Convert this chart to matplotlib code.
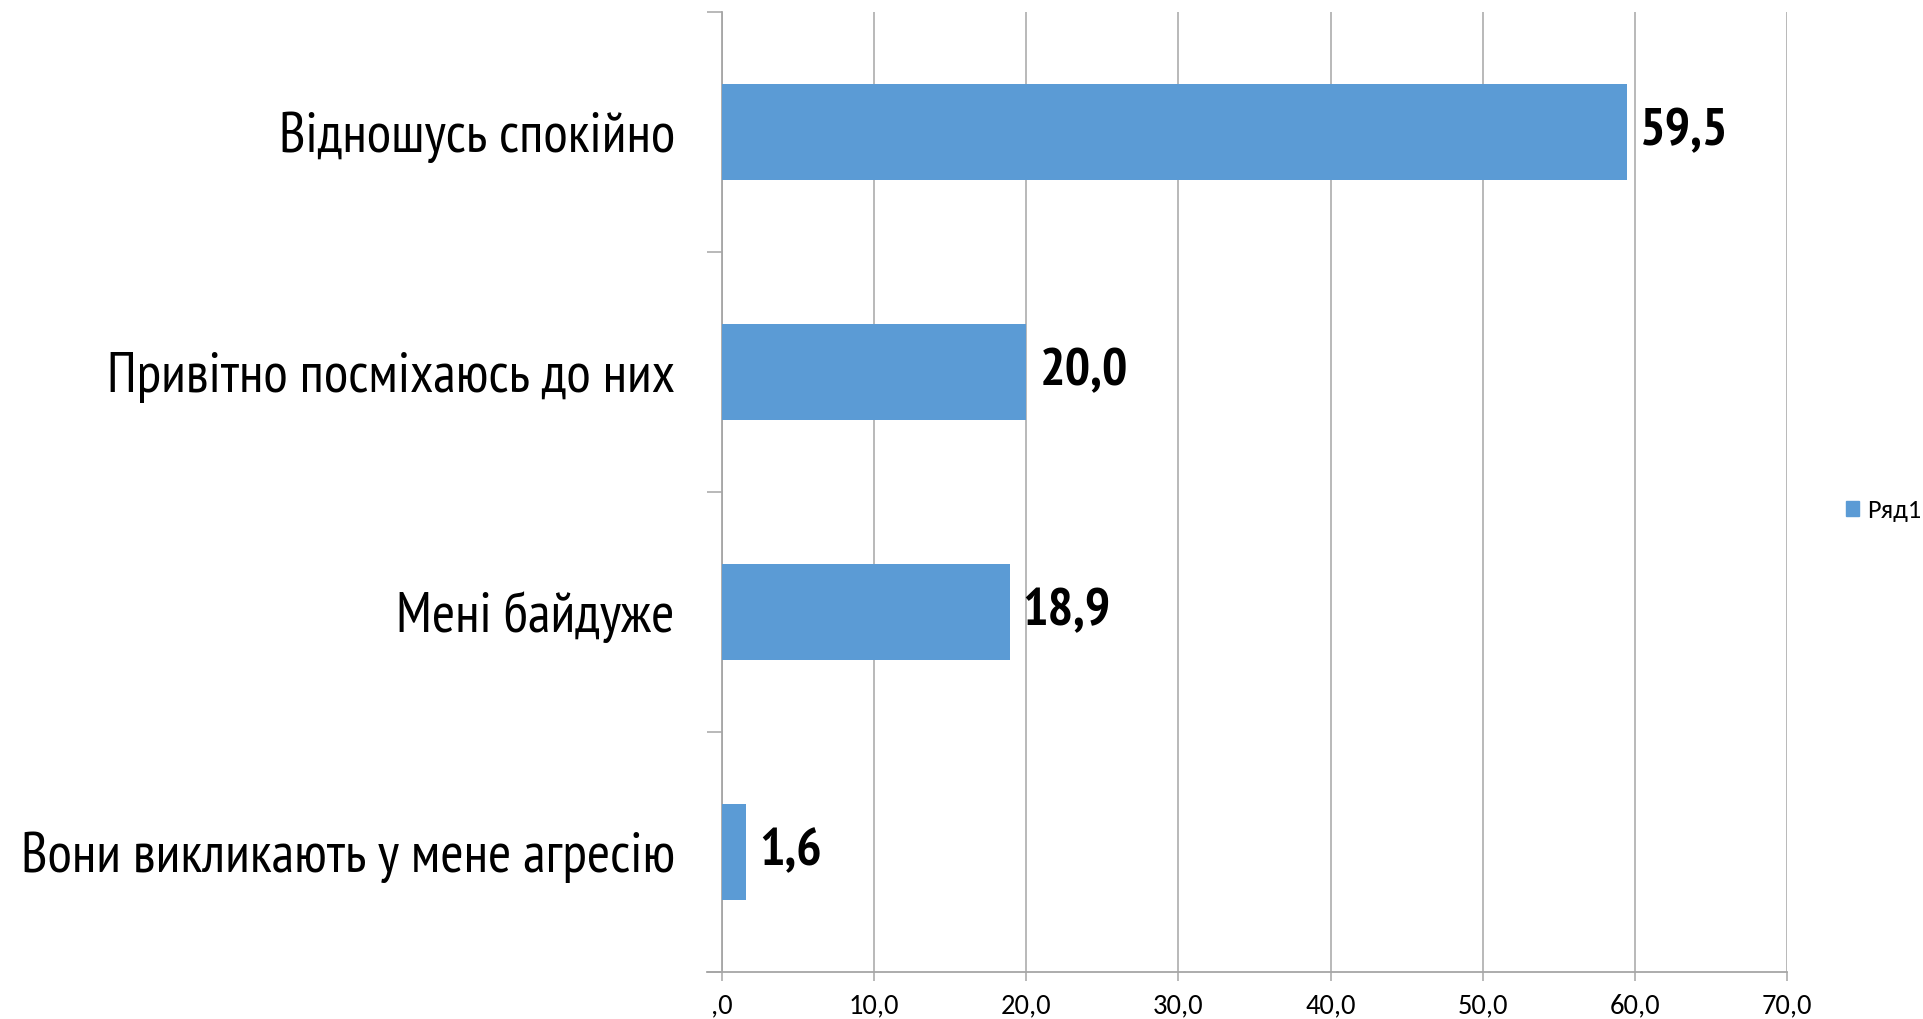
import matplotlib
matplotlib.use("Agg")
import matplotlib.pyplot as plt
from matplotlib.patches import Patch

categories = ["Відношусь спокійно", "Привітно посміхаюсь до них",
              "Мені байдуже", "Вони викликають у мене агресію"]
values = [59.5, 20.0, 18.9, 1.6]
value_labels = ["59,5", "20,0", "18,9", "1,6"]
xticks = [0, 10, 20, 30, 40, 50, 60, 70]
xtick_labels = [",0", "10,0", "20,0", "30,0", "40,0", "50,0", "60,0", "70,0"]
series_name = "Ряд1"

BAR = "#5B9BD5"
GRID = "#A6A6A6"
narrow = ["PT Sans Narrow", "Roboto Condensed", "DejaVu Sans"]
calibri = ["Carlito", "Open Sans", "DejaVu Sans"]

fig = plt.figure(figsize=(19.24, 10.19), dpi=100)
ax = fig.add_axes([0.3753, 0.0461, 0.5535, 0.9421])

pos = [i + 0.5 for i in range(len(categories))]
ax.barh(pos, values, height=0.4, color=BAR, zorder=3)
ax.set_ylim(len(categories), 0)
ax.set_xlim(0, 70)

# grid + spines
ax.set_xticks(xticks)
ax.set_xticklabels(xtick_labels, family=calibri, fontsize=20.5)
ax.xaxis.grid(True, color=GRID, linewidth=1.1, zorder=0)
for s in ["top", "right"]:
    ax.spines[s].set_visible(False)
for s in ["left", "bottom"]:
    ax.spines[s].set_color(GRID)
    ax.spines[s].set_linewidth(1.3)
ax.spines["bottom"].set_bounds(-1.0, 70)
ax.spines["bottom"].set_zorder(4)
ax.tick_params(axis="x", length=6.5, width=1.1, color=GRID, pad=9)

# category boundary ticks on y
ax.set_yticks(range(len(categories) + 1))
ax.set_yticklabels([])
ax.tick_params(axis="y", which="major", length=11, width=1.1, color=GRID)
ax.set_yticks(pos, minor=True)
ax.set_yticklabels(categories, minor=True, family=narrow, fontsize=40.5)
ax.tick_params(axis="y", which="minor", length=0, pad=34)

for p, v, lab in zip(pos, values, value_labels):
    ax.annotate(lab, (v, p), xytext=(13, 0), textcoords="offset pixels",
                ha="left", va="center", family=narrow, fontsize=38.5,
                fontweight="bold")

leg = fig.legend(handles=[Patch(color=BAR, label=series_name)],
                 loc="center left", bbox_to_anchor=(0.9595, 0.4995),
                 frameon=False, borderpad=0, borderaxespad=0,
                 handlelength=0.5, handleheight=0.5,
                 handletextpad=0.3, prop={"family": calibri, "size": 19})

fig.savefig("out.png", dpi=100)
